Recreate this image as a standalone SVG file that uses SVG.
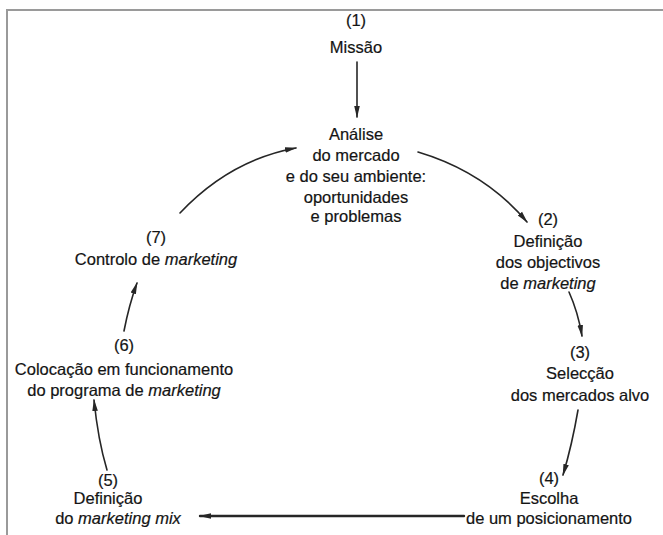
<svg xmlns="http://www.w3.org/2000/svg" width="663" height="535" viewBox="0 0 663 535">
  <style>
    .t { font-family: "Liberation Sans", Arial, Helvetica, sans-serif; font-size: 16.5px; fill: #141414; stroke: #141414; stroke-width: 0.2; text-anchor: middle; }
    .i { font-style: italic; }
    .c { fill: none; stroke: #262626; stroke-width: 1.6; stroke-linecap: round; marker-end: url(#head); }
    .frame { fill: none; stroke: #9a9a9a; stroke-width: 2; }
  </style>
  <defs>
    <marker id="head" viewBox="0 0 12 8" refX="11" refY="4" markerWidth="12" markerHeight="8" markerUnits="userSpaceOnUse" orient="auto">
      <path d="M0,1.2 L12,4 L0,6.8 Z" fill="#262626"/>
    </marker>
  </defs>

  <rect width="663" height="535" fill="#ffffff"/>
  <!-- page frame: top and left rules -->
  <path class="frame" d="M7,535 V10 H663"/>

  <g id="n1">
    <text class="t" x="356" y="26">(1)</text>
    <text class="t" x="356" y="53">Missão</text>
  </g>

  <g id="n-analise">
    <text class="t" x="356" y="140">Análise</text>
    <text class="t" x="356" y="161">do mercado</text>
    <text class="t" x="356" y="182">e do seu ambiente:</text>
    <text class="t" x="356" y="203">oportunidades</text>
    <text class="t" x="356" y="222">e problemas</text>
  </g>

  <g id="n2">
    <text class="t" x="548" y="225">(2)</text>
    <text class="t" x="548" y="247">Definição</text>
    <text class="t" x="548" y="268">dos objectivos</text>
    <text class="t" x="548" y="289">de <tspan class="i">marketing</tspan></text>
  </g>

  <g id="n3">
    <text class="t" x="580" y="358">(3)</text>
    <text class="t" x="580" y="379">Selecção</text>
    <text class="t" x="580" y="401">dos mercados alvo</text>
  </g>

  <g id="n4">
    <text class="t" x="549" y="484">(4)</text>
    <text class="t" x="549" y="504">Escolha</text>
    <text class="t" x="549" y="524">de um posicionamento</text>
  </g>

  <g id="n5">
    <text class="t" x="108" y="486">(5)</text>
    <text class="t" x="108" y="504">Definição</text>
    <text class="t" x="118" y="524">do <tspan class="i">marketing mix</tspan></text>
  </g>

  <g id="n6">
    <text class="t" x="124" y="351">(6)</text>
    <text class="t" x="124" y="375">Colocação em funcionamento</text>
    <text class="t" x="124" y="396">do programa de <tspan class="i">marketing</tspan></text>
  </g>

  <g id="n7">
    <text class="t" x="156" y="243">(7)</text>
    <text class="t" x="156" y="265">Controlo de <tspan class="i">marketing</tspan></text>
  </g>

  <g id="connectors">
    <path class="c" d="M357,62 L357,117"/>
    <path class="c" d="M418,152 Q485,172 527,222"/>
    <path class="c" d="M569,292 Q578,312 582,336"/>
    <path class="c" d="M578,410 Q572,445 563,475"/>
    <path class="c" d="M464,516 L200,516" style="stroke-width:2.4"/>
    <path class="c" d="M107,470 Q98,440 94,400"/>
    <path class="c" d="M124,331 Q129,305 137,283"/>
    <path class="c" d="M180,213 Q230,160 296,148"/>
  </g>
</svg>
